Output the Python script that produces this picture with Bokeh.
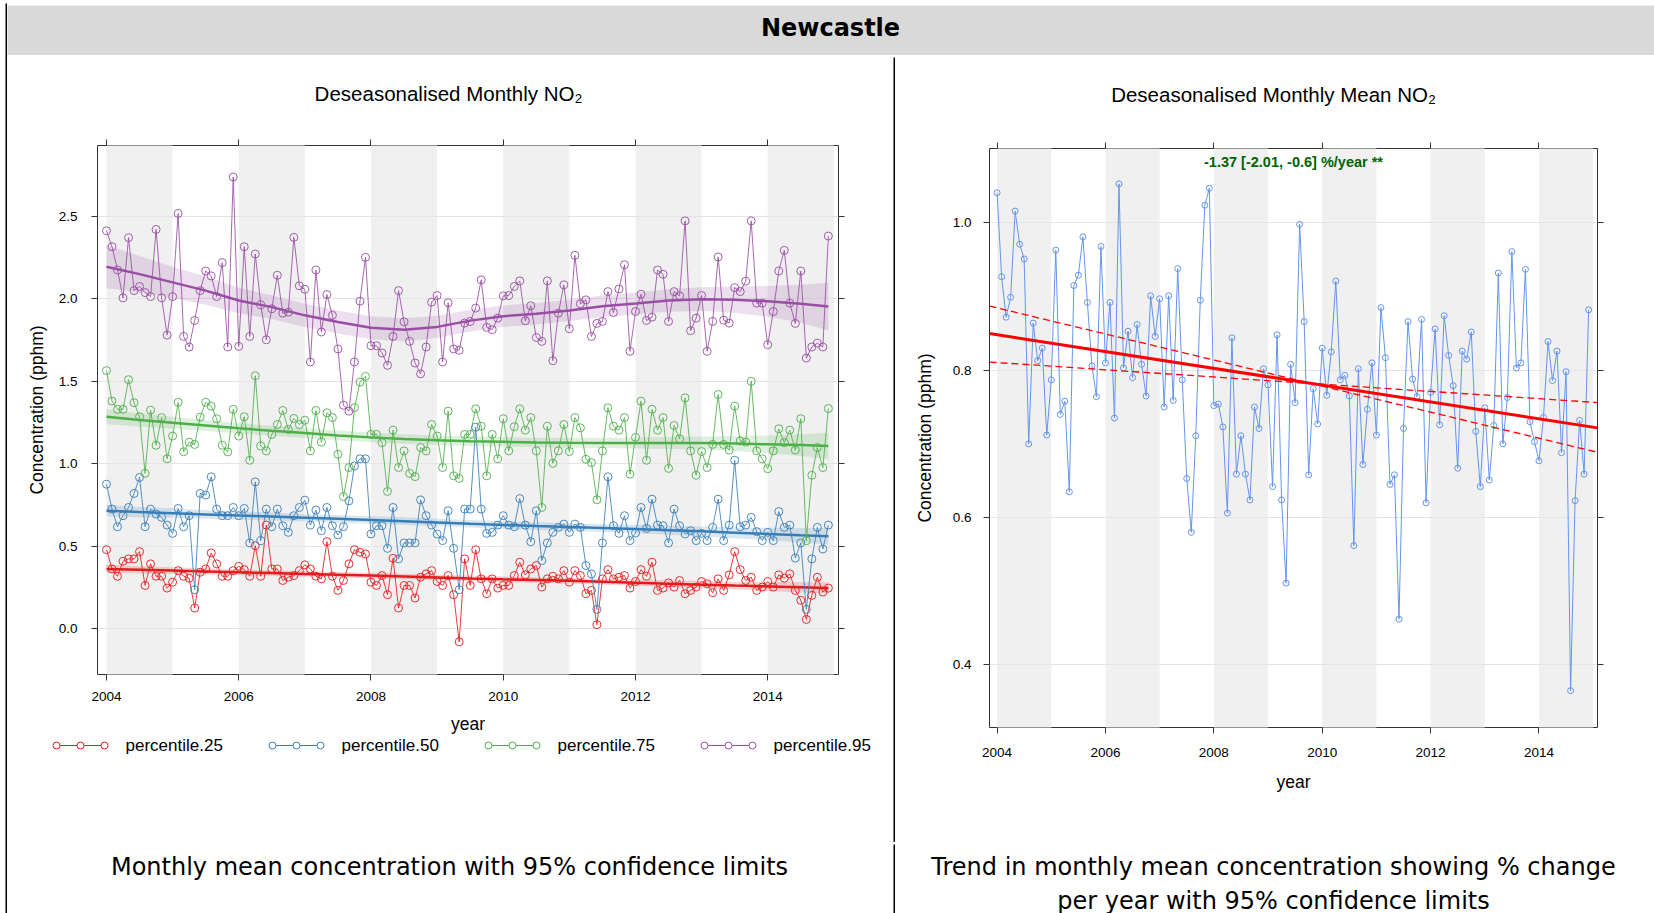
from bokeh.plotting import figure
from bokeh.models import Range1d, LinearAxis, FixedTicker, Label, PrintfTickFormatter
from bokeh.layouts import column, row
from bokeh.embed import file_html
from bokeh.resources import INLINE
from bokeh.core.properties import value

# ---------------- data ----------------
site = "Newcastle"
left_title = "Deseasonalised Monthly NO\u2082"
right_title = "Deseasonalised Monthly Mean NO\u2082"
left_caption = "Monthly mean concentration with 95% confidence limits"
right_caption = ["Trend in monthly mean concentration showing % change",
                 "per year with 95% confidence limits"]
y_label = "Concentration (pphm)"
x_label = "year"

start_year = 2004
n_months = 132
month_x = [start_year + i / 12 for i in range(n_months)]

series_names = ["percentile.25", "percentile.50", "percentile.75", "percentile.95"]

p25 = [0.479, 0.362, 0.318, 0.409, 0.423, 0.423, 0.467, 0.262, 0.393, 0.318, 0.318, 0.246,
       0.282, 0.352, 0.318, 0.306, 0.125, 0.342, 0.362, 0.459, 0.393, 0.318, 0.318, 0.352,
       0.378, 0.358, 0.318, 0.503, 0.318, 0.628, 0.362, 0.362, 0.292, 0.312, 0.322, 0.352,
       0.387, 0.362, 0.318, 0.302, 0.528, 0.318, 0.232, 0.292, 0.393, 0.479, 0.463, 0.453,
       0.282, 0.262, 0.322, 0.206, 0.427, 0.125, 0.262, 0.262, 0.186, 0.312, 0.332, 0.352,
       0.286, 0.262, 0.322, 0.206, -0.080, 0.423, 0.262, 0.479, 0.302, 0.212, 0.302, 0.246,
       0.262, 0.262, 0.322, 0.403, 0.326, 0.362, 0.383, 0.252, 0.302, 0.318, 0.302, 0.352,
       0.282, 0.352, 0.322, 0.212, 0.232, 0.024, 0.302, 0.358, 0.302, 0.312, 0.322, 0.246,
       0.286, 0.358, 0.318, 0.403, 0.232, 0.246, 0.278, 0.252, 0.292, 0.212, 0.232, 0.252,
       0.286, 0.272, 0.218, 0.302, 0.232, 0.326, 0.467, 0.358, 0.292, 0.312, 0.232, 0.252,
       0.286, 0.252, 0.326, 0.306, 0.332, 0.232, 0.172, 0.056, 0.202, 0.312, 0.222, 0.246]

p50 = [0.876, 0.725, 0.618, 0.685, 0.735, 0.820, 0.917, 0.618, 0.725, 0.695, 0.675, 0.628,
       0.578, 0.729, 0.618, 0.685, 0.236, 0.820, 0.810, 0.921, 0.725, 0.685, 0.685, 0.735,
       0.685, 0.729, 0.520, 0.890, 0.534, 0.725, 0.618, 0.725, 0.624, 0.584, 0.685, 0.735,
       0.779, 0.628, 0.719, 0.594, 0.735, 0.624, 0.568, 0.618, 0.775, 0.987, 1.030, 1.030,
       0.574, 0.624, 0.624, 0.487, 0.735, 0.423, 0.520, 0.520, 0.520, 0.781, 0.685, 0.628,
       0.574, 0.534, 0.715, 0.487, 0.236, 0.725, 0.725, 1.222, 0.725, 0.578, 0.584, 0.628,
       0.685, 0.628, 0.618, 0.789, 0.628, 0.527, 0.715, 0.413, 0.520, 0.584, 0.614, 0.634,
       0.584, 0.634, 0.614, 0.383, 0.332, 0.117, 0.520, 0.921, 0.624, 0.578, 0.685, 0.534,
       0.580, 0.735, 0.608, 0.785, 0.628, 0.624, 0.520, 0.725, 0.624, 0.574, 0.594, 0.534,
       0.578, 0.534, 0.614, 0.785, 0.534, 0.628, 1.021, 0.618, 0.628, 0.675, 0.588, 0.534,
       0.584, 0.534, 0.710, 0.614, 0.628, 0.428, 0.520, 0.117, 0.423, 0.614, 0.483, 0.628]

p75 = [1.565, 1.380, 1.330, 1.330, 1.510, 1.370, 1.285, 0.942, 1.325, 1.112, 1.280, 1.030,
       1.168, 1.373, 1.073, 1.131, 1.117, 1.283, 1.373, 1.349, 1.273, 1.112, 1.072, 1.330,
       1.168, 1.285, 1.021, 1.534, 1.108, 1.078, 1.178, 1.238, 1.323, 1.208, 1.275, 1.238,
       1.264, 1.078, 1.323, 1.131, 1.309, 1.280, 1.057, 0.801, 0.977, 1.340, 1.495, 1.530,
       1.178, 1.178, 1.128, 0.832, 1.204, 0.977, 1.078, 0.942, 0.922, 1.098, 1.078, 1.238,
       1.168, 0.977, 1.319, 0.927, 0.911, 1.178, 1.178, 1.333, 1.228, 0.927, 1.178, 1.030,
       1.273, 1.078, 1.225, 1.333, 1.204, 1.280, 1.078, 0.735, 1.228, 1.003, 1.078, 1.238,
       1.074, 1.280, 1.218, 1.027, 1.007, 0.782, 1.078, 1.339, 1.228, 1.204, 1.280, 0.937,
       1.160, 1.380, 1.021, 1.330, 1.204, 1.280, 0.972, 1.232, 1.151, 1.400, 1.078, 0.930,
       1.074, 0.977, 1.117, 1.420, 1.117, 1.083, 1.350, 1.138, 1.131, 1.500, 1.078, 1.030,
       0.970, 1.078, 1.212, 1.128, 1.204, 1.083, 1.273, 0.533, 0.930, 1.098, 0.977, 1.335]

p95 = [2.413, 2.316, 2.175, 2.006, 2.371, 2.050, 2.075, 2.038, 2.014, 2.421, 2.006, 1.780,
       2.014, 2.518, 1.772, 1.708, 1.869, 2.050, 2.169, 2.139, 2.014, 2.220, 1.708, 2.739,
       1.712, 2.316, 1.772, 2.272, 1.964, 1.752, 1.940, 2.143, 1.913, 1.919, 2.373, 2.079,
       2.058, 1.617, 2.175, 1.799, 2.026, 1.900, 1.696, 1.355, 1.319, 1.617, 1.986, 2.252,
       1.716, 1.716, 1.672, 1.597, 1.772, 2.050, 1.861, 1.742, 1.611, 1.545, 1.708, 1.980,
       2.020, 1.617, 1.976, 1.696, 1.688, 1.853, 1.863, 1.944, 2.115, 1.827, 1.813, 1.883,
       2.018, 2.020, 2.075, 2.109, 1.867, 1.958, 1.766, 1.742, 2.109, 1.625, 1.913, 2.085,
       1.819, 2.264, 1.970, 1.994, 1.772, 1.851, 1.863, 2.044, 1.917, 2.060, 2.207, 1.682,
       1.923, 2.028, 1.869, 1.889, 2.175, 2.149, 1.863, 2.044, 2.018, 2.473, 1.807, 1.883,
       2.020, 1.682, 1.863, 2.254, 1.871, 1.853, 2.068, 2.044, 2.107, 2.473, 1.974, 1.974,
       1.722, 1.923, 2.169, 2.294, 1.974, 1.851, 2.169, 1.641, 1.708, 1.732, 1.708, 2.381]

# smooth trend (centre line and half-width of the 95% band), every half year
smooth_x = [2004.0, 2004.5, 2005.0, 2005.5, 2006.0, 2006.5, 2007.0, 2007.5, 2008.0, 2008.5,
            2009.0, 2009.5, 2010.0, 2010.5, 2011.0, 2011.5, 2012.0, 2012.5, 2013.0, 2013.5,
            2014.0, 2014.5, 2014.917]
p25_smooth = [0.362, 0.357, 0.352, 0.347, 0.342, 0.337, 0.332, 0.327, 0.322, 0.316, 0.310, 0.304,
              0.299, 0.295, 0.290, 0.285, 0.279, 0.273, 0.267, 0.261, 0.256, 0.251, 0.246]
p25_halfwidth = [0.025, 0.022, 0.020, 0.019, 0.018, 0.017, 0.017, 0.017, 0.017, 0.017, 0.017, 0.017,
                 0.017, 0.017, 0.017, 0.018, 0.019, 0.020, 0.022, 0.024, 0.027, 0.031, 0.035]
p50_smooth = [0.715, 0.707, 0.700, 0.693, 0.686, 0.680, 0.673, 0.666, 0.659, 0.652, 0.644, 0.636,
              0.629, 0.622, 0.616, 0.610, 0.604, 0.597, 0.590, 0.582, 0.574, 0.566, 0.560]
p50_halfwidth = [0.035, 0.031, 0.028, 0.026, 0.025, 0.024, 0.023, 0.023, 0.023, 0.023, 0.023, 0.023,
                 0.023, 0.023, 0.023, 0.024, 0.025, 0.027, 0.029, 0.033, 0.038, 0.044, 0.050]
p75_smooth = [1.285, 1.266, 1.248, 1.232, 1.215, 1.200, 1.186, 1.172, 1.160, 1.150, 1.143, 1.137,
              1.133, 1.129, 1.127, 1.126, 1.126, 1.126, 1.126, 1.123, 1.118, 1.113, 1.108]
p75_halfwidth = [0.045, 0.040, 0.036, 0.033, 0.031, 0.030, 0.030, 0.029, 0.029, 0.029, 0.029, 0.029,
                 0.029, 0.029, 0.030, 0.031, 0.033, 0.036, 0.040, 0.046, 0.054, 0.066, 0.080]
p95_smooth = [2.195, 2.150, 2.100, 2.050, 1.990, 1.950, 1.900, 1.860, 1.825, 1.812, 1.830, 1.868,
              1.895, 1.910, 1.930, 1.955, 1.972, 1.990, 1.998, 1.995, 1.985, 1.970, 1.953]
p95_halfwidth = [0.130, 0.110, 0.095, 0.085, 0.078, 0.072, 0.070, 0.070, 0.070, 0.070, 0.068, 0.066,
                 0.065, 0.065, 0.065, 0.065, 0.066, 0.068, 0.072, 0.080, 0.093, 0.115, 0.145]

mean_no2 = [1.041, 0.927, 0.872, 0.899, 1.016, 0.971, 0.951, 0.700, 0.864, 0.813, 0.830, 0.712,
            0.787, 0.963, 0.740, 0.758, 0.635, 0.915, 0.929, 0.981, 0.892, 0.806, 0.764, 0.968,
            0.810, 0.892, 0.735, 1.053, 0.803, 0.853, 0.790, 0.862, 0.808, 0.765, 0.901, 0.846,
            0.897, 0.750, 0.901, 0.759, 0.938, 0.787, 0.653, 0.580, 0.711, 0.895, 1.024, 1.047,
            0.752, 0.754, 0.723, 0.606, 0.844, 0.659, 0.711, 0.659, 0.624, 0.750, 0.721, 0.802,
            0.780, 0.642, 0.848, 0.624, 0.511, 0.808, 0.756, 0.998, 0.866, 0.658, 0.775, 0.727,
            0.830, 0.766, 0.825, 0.921, 0.787, 0.793, 0.765, 0.562, 0.802, 0.672, 0.747, 0.810,
            0.712, 0.885, 0.817, 0.645, 0.658, 0.462, 0.721, 0.866, 0.788, 0.764, 0.869, 0.620,
            0.770, 0.856, 0.726, 0.874, 0.820, 0.779, 0.667, 0.826, 0.815, 0.852, 0.717, 0.642,
            0.749, 0.651, 0.725, 0.932, 0.700, 0.763, 0.961, 0.803, 0.810, 0.937, 0.730, 0.703,
            0.677, 0.736, 0.839, 0.786, 0.826, 0.688, 0.798, 0.365, 0.623, 0.732, 0.659, 0.882]

# Theil-Sen trend: pivot point, slope and 95% slope limits (pphm / year)
trend_pivot_year = 2009.8
trend_pivot_value = 0.782
trend_slope = -0.01141
trend_slope_limits = [-0.01769, -0.0049]
trend_text = "-1.37 [-2.01, -0.6] %/year **"

year_ticks = [2004, 2006, 2008, 2010, 2012, 2014]
left_y_ticks = [0.0, 0.5, 1.0, 1.5, 2.0, 2.5]
right_y_ticks = [0.4, 0.6, 0.8, 1.0]
shade_years = [2004, 2006, 2008, 2010, 2012, 2014]

# ---------------- styling ----------------
FONT = "Liberation Sans"
CAP_FONT = "DejaVu Sans"
COLORS = ["#E41A1C", "#377EB8", "#4DAF4A", "#984EA3"]
MEAN_COLOR = "#6495ED"
SHADE = "#f0f0f0"
GRID = "#e4e4e4"
FRAME = "#333333"


def bare(w, h, xr, yr, color):
    f = figure(width=w, height=h, x_range=xr, y_range=yr,
               toolbar_location=None, output_backend="svg", min_border=0,
               x_axis_type=None, y_axis_type=None, frame_align=False)
    f.background_fill_color = color
    f.border_fill_color = color
    f.outline_line_color = None
    return f


def strip(w, h, color="black"):
    return bare(w, h, Range1d(0, 1), Range1d(0, 1), color)


def text_cell(w, h, bg, items):
    f = bare(w, h, Range1d(0, w), Range1d(h, 0), bg)
    for (x, y, t, font, size, style) in items:
        f.text(x=[x], y=[y], text=[t], text_font=value(font), text_font_size=size,
               text_font_style=style, text_align="center", text_baseline="middle",
               text_color="black")
    return f


def style_axis(ax, show_labels=True):
    ax.axis_line_color = None
    ax.major_tick_line_color = FRAME
    ax.major_tick_out = 6
    ax.major_tick_in = 0
    ax.minor_tick_line_color = None
    ax.major_label_text_font = FONT
    ax.axis_label_text_font = FONT
    ax.axis_label_text_font_size = "17.5px"
    ax.axis_label_text_font_style = "normal"
    ax.axis_label_text_color = "black"
    if show_labels:
        ax.major_label_text_font_size = "13.5px"
        ax.major_label_text_color = "black"
    else:
        ax.major_label_text_font_size = "6px"
        ax.major_label_text_color = None
        ax.major_label_standoff = 0


def base_plot(w, h, xr, yr, borders, yticks, yfmt):
    l, r, t, b = borders
    p = figure(width=w, height=h, x_range=xr, y_range=yr, toolbar_location=None,
               output_backend="svg", min_border_left=l, min_border_right=r,
               min_border_top=t, min_border_bottom=b, frame_align=False)
    p.background_fill_color = "white"
    p.border_fill_color = "white"
    p.outline_line_color = FRAME
    p.outline_line_width = 1
    p.xgrid.visible = False
    p.ygrid.ticker = FixedTicker(ticks=yticks)
    p.ygrid.grid_line_color = GRID
    p.ygrid.level = "underlay"
    xax = p.below[0]
    yax = p.left[0]
    xax.ticker = FixedTicker(ticks=year_ticks)
    xax.formatter = PrintfTickFormatter(format="%d")
    yax.ticker = FixedTicker(ticks=yticks)
    yax.formatter = PrintfTickFormatter(format=yfmt)
    xax.axis_label = x_label
    yax.axis_label = y_label
    style_axis(xax)
    style_axis(yax)
    top = LinearAxis(ticker=FixedTicker(ticks=year_ticks))
    right = LinearAxis(ticker=FixedTicker(ticks=yticks))
    style_axis(top, False)
    style_axis(right, False)
    p.add_layout(top, "above")
    p.add_layout(right, "right")
    # alternate-year shading
    p.quad(left=shade_years, right=[y + 1 for y in shade_years], bottom=-10, top=10,
           fill_color=SHADE, line_color=None, level="image")
    return p, xax, yax


# ---------------- left panel ----------------
pL, xaxL, yaxL = base_plot(886, 617, Range1d(2003.864, 2015.07), Range1d(-0.278, 2.93),
                           (90, 55, 26, 60), left_y_ticks, "%.1f")
xaxL.major_label_standoff = 11
xaxL.axis_label_standoff = 10
yaxL.major_label_standoff = 14
yaxL.axis_label_standoff = 9

raw = [p25, p50, p75, p95]
smooth = [p25_smooth, p50_smooth, p75_smooth, p95_smooth]
halfw = [p25_halfwidth, p50_halfwidth, p75_halfwidth, p95_halfwidth]
for name, col, vals, sm, hw in zip(series_names, COLORS, raw, smooth, halfw):
    pL.line(month_x, vals, line_color=col, line_width=1, line_alpha=0.85)
    pL.scatter(month_x, vals, marker="circle", size=8, fill_color=None,
               line_color=col, line_width=1, line_alpha=0.9)
    pL.varea(x=smooth_x, y1=[a - d for a, d in zip(sm, hw)], y2=[a + d for a, d in zip(sm, hw)],
             fill_color=col, fill_alpha=0.18)
    pL.line(smooth_x, sm, line_color=col, line_width=2.5)

# key strip under the left panel (lattice style key: o-o-o  label), pixel coordinates
leg_w, leg_h = 886, 106
lf = bare(leg_w, leg_h, Range1d(0, leg_w), Range1d(leg_h, 0), "white")
key_left, key_pitch, key_row = 47, 216, 9
key_points = [2, 26, 50]
for k, (name, col) in enumerate(zip(series_names, COLORS)):
    x0 = key_left + k * key_pitch
    lf.line([x0 + key_points[0], x0 + key_points[-1]], [key_row, key_row],
            line_color=col, line_width=1)
    lf.scatter([x0 + d for d in key_points], [key_row] * len(key_points), marker="circle",
               size=7, fill_color="white", line_color=col, line_width=1)
    lf.text(x=[x0 + 71], y=[key_row], text=[name], text_font=value(FONT),
            text_font_size="17px", text_align="left", text_baseline="middle",
            text_color="black")

# ---------------- right panel ----------------
xr_start, xr_end = 2003.86, 2015.08
pR, xaxR, yaxR = base_plot(759, 723, Range1d(xr_start, xr_end), Range1d(0.315, 1.101),
                           (94, 57, 29, 115), right_y_ticks, "%.1f")
xaxR.major_label_standoff = 14
xaxR.axis_label_standoff = 12
yaxR.major_label_standoff = 12
yaxR.axis_label_standoff = 15

pR.line(month_x, mean_no2, line_color=MEAN_COLOR, line_width=1)
pR.scatter(month_x, mean_no2, marker="circle", size=6, fill_color=None,
           line_color=MEAN_COLOR, line_width=1)

tx = [xr_start, xr_end]
for s in trend_slope_limits:
    pR.line(tx, [trend_pivot_value + s * (x - trend_pivot_year) for x in tx],
            line_color="#FF0000", line_width=1.3, line_dash="7 4")
pR.line(tx, [trend_pivot_value + trend_slope * (x - trend_pivot_year) for x in tx],
        line_color="#FF0000", line_width=3)

pR.add_layout(Label(x=(xr_start + xr_end) / 2, y=1.101 - 0.0186, text=trend_text,
                    text_align="center", text_baseline="middle", text_font=FONT,
                    text_font_size="14.5px", text_font_style="bold", text_color="#006400"))

# ---------------- titles, header, captions ----------------
tL = text_cell(886, 62, "white", [(441, 36, left_title, FONT, "20.5px", "normal")])
tR = text_cell(759, 62, "white", [(378, 37, right_title, FONT, "20.5px", "normal")])
header = text_cell(1647, 50, "#d9d9d9", [(823, 22, site, CAP_FONT, "24px", "bold")])
capL = text_cell(886, 69, "white", [(442, 22, left_caption, CAP_FONT, "24px", "normal")])
capR = text_cell(759, 69, "white", [(378, 22, right_caption[0], CAP_FONT, "24px", "normal"),
                                    (378, 56, right_caption[1], CAP_FONT, "24px", "normal")])

inner = column(
    strip(1647, 3, "white"),
    strip(1647, 2),
    header,
    strip(1647, 2),
    row(column(tL, pL, lf), strip(2, 785), column(tR, pR)),
    strip(1647, 2),
    row(capL, strip(2, 69), capR),
)
layout = row(strip(5, 913, "white"),
             column(strip(2, 3, "white"), strip(2, 910)),
             inner)

open("out.html", "w").write(file_html(layout, INLINE))
